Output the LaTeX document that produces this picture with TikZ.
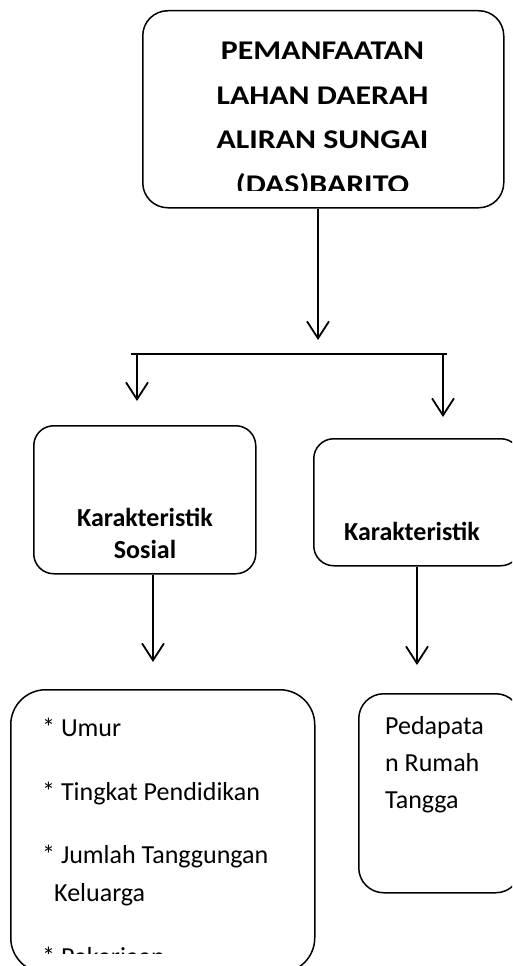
\documentclass[tikz,border=0pt]{standalone}
\usepackage{fontspec}
\setmainfont{Carlito}
\newfontfamily\widefont[FakeStretch=1.18]{Carlito}
\usetikzlibrary{arrows.meta}
\begin{document}
\begin{tikzpicture}[x=1pt,y=-1pt,
  box/.style={draw, line width=1.5pt, rounded corners=#1, inner sep=0pt, anchor=north west},
  ttl/.style={anchor=base, inner sep=0pt, font=\widefont\fontsize{27}{33}\selectfont\bfseries},
  mid/.style={anchor=base, inner sep=0pt, font=\fontsize{26}{31}\selectfont\bfseries},
  item/.style={anchor=base west, inner sep=0pt, font=\fontsize{26}{31}\selectfont},
  ln/.style={line width=1.8pt},
  arr/.style={line width=1.8pt, -{Straight Barb[length=17pt,width=22pt,line width=1.8pt]}}
]
\useasboundingbox (0,0) rectangle (512,966);
\clip (0,0) rectangle (512,966);

% boxes
\node[box=25pt, minimum width=361pt, minimum height=197pt] (top) at (142,10) {};
\node[box=20pt, minimum width=222pt, minimum height=148pt] (ml) at (33,425) {};
\node[box=20pt, minimum width=207pt, minimum height=127pt] (mr) at (313,438) {};
\node[box=35pt, minimum width=304pt, minimum height=283pt] (bl) at (10,689) {};
\node[box=25pt, minimum width=162pt, minimum height=199pt] (br) at (358,693) {};

% title text (clipped by the box)
\begin{scope}
\clip (142,10) rectangle (503,190);
\node[ttl] (t1) at (322.5,59.5) {PEMANFAATAN};
\node[ttl] (t2) at (322.5,104) {LAHAN DAERAH};
\node[ttl] (t3) at (322.5,148.5) {ALIRAN SUNGAI};
\node[ttl] (t4) at (322.5,193) {(DAS)BARITO};
\end{scope}

% middle texts
\node[mid] (k1) at (145,526.5) {Karakteristik};
\node[mid] (k2) at (145,558) {Sosial};
\node[mid] (k3) at (412,540) {Karakteristik};

% bottom left items (clipped by the page)
\begin{scope}
\clip (10,689) rectangle (314,953);
\node[item] (i1) at (42,736) {* Umur};
\node[item] (i2) at (42,800) {* Tingkat Pendidikan};
\node[item] (i3) at (42,863) {* Jumlah Tanggungan};
\node[item] (i4) at (54,901) {Keluarga};
\node[item] (i5) at (42,965) {* Pekerjaan};
\end{scope}

% bottom right text
\node[item] (p1) at (385,734) {Pedapata};
\node[item] (p2) at (385,771) {n Rumah};
\node[item] (p3) at (385,808) {Tangga};

% connector points
\coordinate (jt) at (318,340);
\coordinate (hl) at (131,354);
\coordinate (hr) at (447,354);
\coordinate (la) at (137,354);
\coordinate (lt) at (137,401);
\coordinate (ra) at (443,354);
\coordinate (rt) at (443,417);
\coordinate (mlt) at (153,662);
\coordinate (mrt) at (417,665);

\draw[arr] (top.south -| jt) -- (jt);
\draw[ln] (hl) -- (hr);
\draw[arr] (la) -- (lt);
\draw[arr] (ra) -- (rt);
\draw[arr] (ml.south -| mlt) -- (mlt);
\draw[arr] (mr.south -| mrt) -- (mrt);
\end{tikzpicture}
\end{document}
